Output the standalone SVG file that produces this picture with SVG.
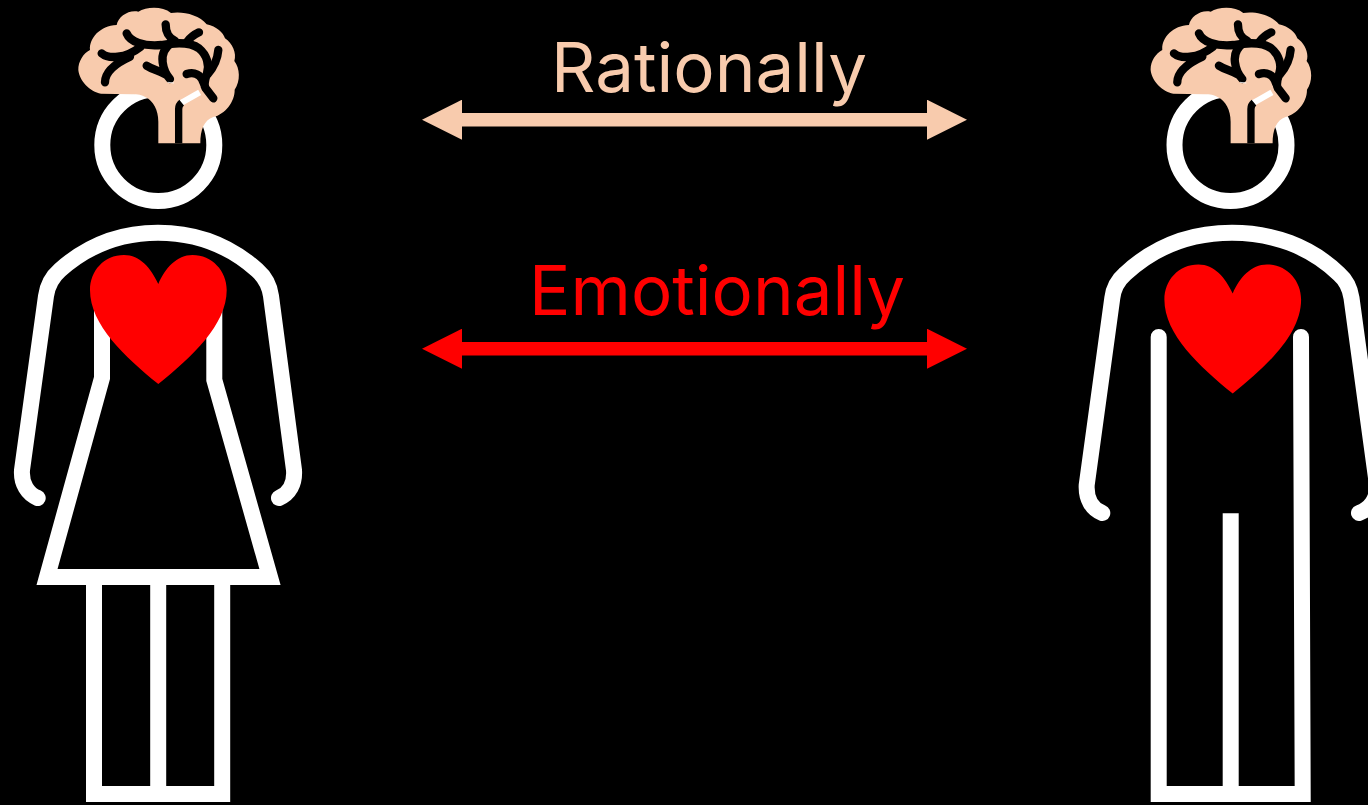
<svg xmlns="http://www.w3.org/2000/svg" width="1368" height="805" viewBox="0 0 1368 805">
<style>
.ln{fill:none;stroke:#fff;stroke-width:16;stroke-linejoin:round}
.cap{stroke-linecap:round}
.miter{stroke-linejoin:miter;stroke-miterlimit:10}
.heart{fill:#f00}
.brain{fill:#f8cbad}
.vein{fill:none;stroke:#000;stroke-width:25;stroke-linecap:round;stroke-linejoin:round}
.gap{fill:none;stroke:#fff;stroke-width:18}
.label{font-family:"Inter","Noto Sans",sans-serif;font-size:68.5px;font-weight:400}
</style>
<defs>
<marker id="headPeach" markerUnits="userSpaceOnUse" markerWidth="40" markerHeight="40" viewBox="0 -20 40 40" refX="1" refY="0" orient="auto-start-reverse"><path d="M0-20L40 0L0 20Z" fill="#f8cbad"/></marker>
<marker id="headRed" markerUnits="userSpaceOnUse" markerWidth="40" markerHeight="40" viewBox="0 -20 40 40" refX="1" refY="0" orient="auto-start-reverse"><path d="M0-20L40 0L0 20Z" fill="#f00"/></marker>
<g id="brainIcon">
<path class="brain" d="M250 415V350C250 315 235 288 212 277C200 270 190 268 170 268L78 266C45 260 13 228 10 195C9 170 25 145 45 135C42 100 75 62 125 60C130 35 160 14 190 20C215 5 262 3 288 24C320 18 372 28 395 58C425 64 445 84 450 100C472 115 486 145 478 168C495 190 497 228 479 254C480 290 450 328 415 336C387 345 376 375 376 415Z"/>
<path class="gap" d="M316 295L374 262"/>
<path fill="none" stroke="#000" stroke-width="22" d="M311 415V312C311 304 314 298 320 293"/>
<path class="vein" d="M155 85C165 110 205 125 260 120C305 112 345 110 372 130C396 150 404 180 396 205C390 225 385 238 392 250L415 280"/>
<path class="vein" d="M272 58C272 85 282 98 300 108M372 82C355 90 345 98 335 112M430 135C428 160 418 185 398 208M292 112C268 128 260 150 263 172C266 195 274 210 285 222M215 182C235 195 255 197 275 210M335 207C358 200 378 208 386 234M80 145C100 162 150 162 197 125M90 232C90 205 115 178 165 155"/>
<path fill="none" stroke="#fff" stroke-width="2.5" d="M278 232L297 234"/>
</g>
<path id="heartShape" d="M68.3 129C61 113 50 100 34 100C14 100 0 116 0 135C0 170 35 202 68.3 229C102 202 136.7 170 136.7 135C136.7 116 122 100 102.5 100C87 100 75 113 68.3 129Z"/>
</defs>
<rect width="1368" height="805" fill="#000"/>

<g id="woman">
<circle class="ln" cx="158.3" cy="145" r="56"/>
<use href="#brainIcon" transform="translate(75 5) scale(.3333)"/>
<path class="ln cap" d="M37.7 498C28 494 21 484 22 470L46 296C47.5 285 52 277 60 270C88 245 120 232.7 158 232.7C197 232.7 229 245 257 270C265 277 269.5 285 271 296L294 470C295 484 289 494 279 498"/>
<path class="ln miter" d="M102 300V378L47 577H270L214.3 380V300"/>
<path class="ln miter" d="M94 577V794H222.2V577M158.2 577V794"/>
<use class="heart" href="#heartShape" transform="translate(90 155)"/>
</g>

<g id="man">
<circle class="ln" cx="1230.5" cy="145" r="56"/>
<use href="#brainIcon" transform="translate(1147.3 5) scale(.3333)"/>
<path class="ln cap" d="M1102.3 513C1092 509 1086 499 1086.7 485L1112.3 298C1113.5 288 1117 281 1125 274C1155 246 1192 232.7 1232 232.7C1272 232.7 1310 246 1339 274C1347 281 1350 288 1351.5 298L1377 485C1378 499 1370 509 1359 513"/>
<path class="ln cap miter" d="M1158.7 337V794H1302.7L1301 337"/>
<path class="ln miter" d="M1230.7 513.3V794"/>
<use class="heart" href="#heartShape" transform="translate(1164.4 164.4)"/>
</g>

<g id="connectors">
<path d="M461 119.7H928" stroke="#f8cbad" stroke-width="13.5" fill="none" marker-start="url(#headPeach)" marker-end="url(#headPeach)"/>
<path d="M461 348.7H928" stroke="#f00" stroke-width="13.5" fill="none" marker-start="url(#headRed)" marker-end="url(#headRed)"/>
</g>

<g id="labels">
<text class="label" x="551" y="91.7" fill="#f8cbad" textLength="316" lengthAdjust="spacingAndGlyphs">Rationally</text>
<text class="label" x="529" y="315" fill="#f00" textLength="376" lengthAdjust="spacingAndGlyphs">Emotionally</text>
</g>
</svg>
